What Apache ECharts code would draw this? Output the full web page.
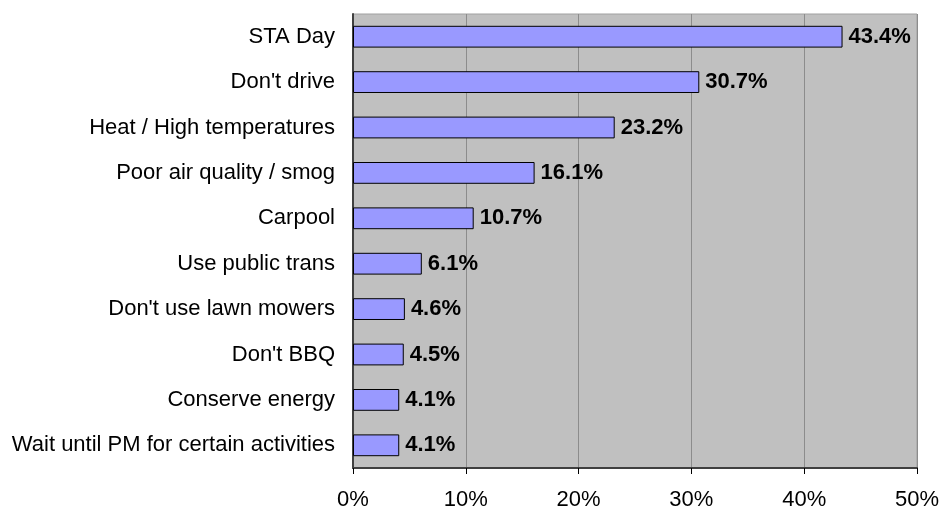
<!DOCTYPE html>
<html>
<head>
<meta charset="utf-8">
<script src="https://cdn.jsdelivr.net/npm/echarts@6/dist/echarts.min.js"></script>
<style>
html,body{margin:0;padding:0;background:#fff;}
#chart{width:942px;height:512px;}
</style>
</head>
<body>
<div id="chart"></div>
<script>
// Reasons given, listed top to bottom
const categories = [
  "STA Day",
  "Don't drive",
  "Heat / High temperatures",
  "Poor air quality / smog",
  "Carpool",
  "Use public trans",
  "Don't use lawn mowers",
  "Don't BBQ",
  "Conserve energy",
  "Wait until PM for certain activities"
];
// Share of respondents, percent
const shares = [43.4, 30.7, 23.2, 16.1, 10.7, 6.1, 4.6, 4.5, 4.1, 4.1];
const tickMax = 50;
const tickStep = 10;

const chart = echarts.init(document.getElementById('chart'));
const font = 'Liberation Sans, Arial, sans-serif';

chart.setOption({
  animation: false,
  grid: {
    left: 353, right: 25, top: 14, bottom: 44,
    show: true, backgroundColor: '#c0c0c0', borderColor: '#a0a0a0', borderWidth: 1
  },
  xAxis: {
    type: 'value', min: 0, max: tickMax, interval: tickStep,
    axisLine: { show: true, lineStyle: { color: '#404040', width: 2 } },
    axisTick: { show: true, length: 6, lineStyle: { color: '#000' } },
    splitLine: { show: true, lineStyle: { color: '#8c8c8c', width: 1 } },
    axisLabel: { color: '#000', fontFamily: font, fontSize: 22, margin: 21,
      formatter: v => v + '%' }
  },
  yAxis: {
    type: 'category', inverse: true, data: categories,
    axisLine: { show: true, lineStyle: { color: '#404040', width: 2 } },
    axisTick: { show: false },
    axisLabel: { color: '#000', fontFamily: font, fontSize: 22, margin: 18 }
  },
  series: [{
    type: 'bar', data: shares, barCategoryGap: '52%',
    itemStyle: { color: '#9999ff', borderColor: '#000', borderWidth: 1 },
    label: { show: true, position: 'right', distance: 6, color: '#000',
      fontFamily: font, fontSize: 22, fontWeight: 'bold',
      formatter: p => p.value.toFixed(1) + '%' }
  }]
});
</script>
</body>
</html>
